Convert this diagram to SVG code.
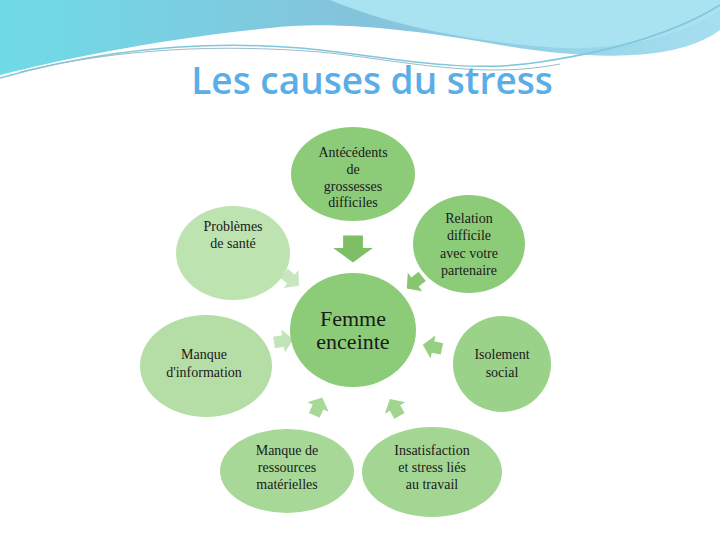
<svg xmlns="http://www.w3.org/2000/svg" width="720" height="540" viewBox="0 0 720 540">
<defs>
<linearGradient id="bg" x1="0" y1="0" x2="1" y2="0"><stop offset="0" stop-color="#6fdbe6"/><stop offset="0.5" stop-color="#84c3dc"/><stop offset="1" stop-color="#a6dff0"/></linearGradient>
<style>
.t{font-family:"Liberation Serif",serif;font-size:14px;fill:#1a1a1a;text-anchor:middle}
.big{font-size:22px}
</style>
<path id="ar" d="M-9,-14 H9 V0 H18 L0,16 L-18,0 H-9 Z"/>
</defs>
<rect width="720" height="540" fill="#fff"/>
<path d="M0,0 H720 V30 C680,60 600,62 500,45 C420,30 330,20 270,28 C150,40 60,60 0,75 Z" fill="url(#bg)"/>
<path d="M330,0 C390,25 470,42 560,48 C640,50 690,30 720,10 V0 Z" fill="#a9e2f0"/>
<path d="M0,78 C100,50 200,40 300,48 C380,55 460,75 540,62 C620,50 680,30 720,5" fill="none" stroke="#7fc7da" stroke-width="1.5"/>
<path d="M20,72 C120,48 220,44 320,52 C400,60 480,80 560,64" fill="none" stroke="#9dbcc7" stroke-width="1"/>
<text x="372" y="94" font-family="'Open Sans','Liberation Sans',sans-serif" font-size="37" font-weight="600" fill="#5aaee8" text-anchor="middle">Les causes du stress</text>
<g id="connectors">
<use href="#ar" transform="translate(353,248) scale(1.1,0.9)" fill="#7dbf64"/>
<use href="#ar" transform="translate(291,279) rotate(-50) scale(0.65)" fill="#c9e6bf"/>
<use href="#ar" transform="translate(415,282) rotate(52) scale(0.65)" fill="#86c66e"/>
<use href="#ar" transform="translate(283,341) rotate(-99) scale(0.65)" fill="#c3e3b8"/>
<use href="#ar" transform="translate(433,347) rotate(102) scale(0.65)" fill="#94cf82"/>
<use href="#ar" transform="translate(318,407) rotate(-156) scale(0.65)" fill="#a8d898"/>
<use href="#ar" transform="translate(395,408) rotate(151) scale(0.65)" fill="#a0d48f"/>
</g>
<g id="n-center"><ellipse cx="353" cy="330" rx="63" ry="57" fill="#8ccc78"/>
<text class="t big" x="353" y="326">Femme</text><text class="t big" x="353" y="349">enceinte</text></g>
<g id="n-antecedents"><ellipse cx="353" cy="174" rx="62" ry="47" fill="#8ccc78"/>
<text class="t" x="353" y="157">Antécédents</text><text class="t" x="353" y="174">de</text><text class="t" x="353" y="191">grossesses</text><text class="t" x="353" y="207">difficiles</text></g>
<g id="n-relation"><ellipse cx="469" cy="244" rx="56" ry="49" fill="#8ccc78"/>
<text class="t" x="469" y="223">Relation</text><text class="t" x="469" y="240">difficile</text><text class="t" x="469" y="258">avec votre</text><text class="t" x="469" y="275">partenaire</text></g>
<g id="n-problemes"><ellipse cx="233" cy="253" rx="57" ry="47" fill="#bde3b0"/>
<text class="t" x="233" y="231">Problèmes</text><text class="t" x="233" y="248">de santé</text></g>
<g id="n-information"><ellipse cx="206" cy="366" rx="66" ry="51" fill="#b5dea6"/>
<text class="t" x="204" y="359">Manque</text><text class="t" x="204" y="377">d'information</text></g>
<g id="n-isolement"><ellipse cx="502" cy="364" rx="49" ry="48" fill="#9ad28a"/>
<text class="t" x="502" y="359">Isolement</text><text class="t" x="502" y="377">social</text></g>
<g id="n-ressources"><ellipse cx="287" cy="471" rx="67" ry="42" fill="#a8d898"/>
<text class="t" x="287" y="455">Manque de</text><text class="t" x="287" y="472">ressources</text><text class="t" x="287" y="489">matérielles</text></g>
<g id="n-travail"><ellipse cx="432" cy="472" rx="70" ry="45" fill="#a3d693"/>
<text class="t" x="432" y="455">Insatisfaction</text><text class="t" x="432" y="472">et stress liés</text><text class="t" x="432" y="489">au travail</text></g>
</svg>
